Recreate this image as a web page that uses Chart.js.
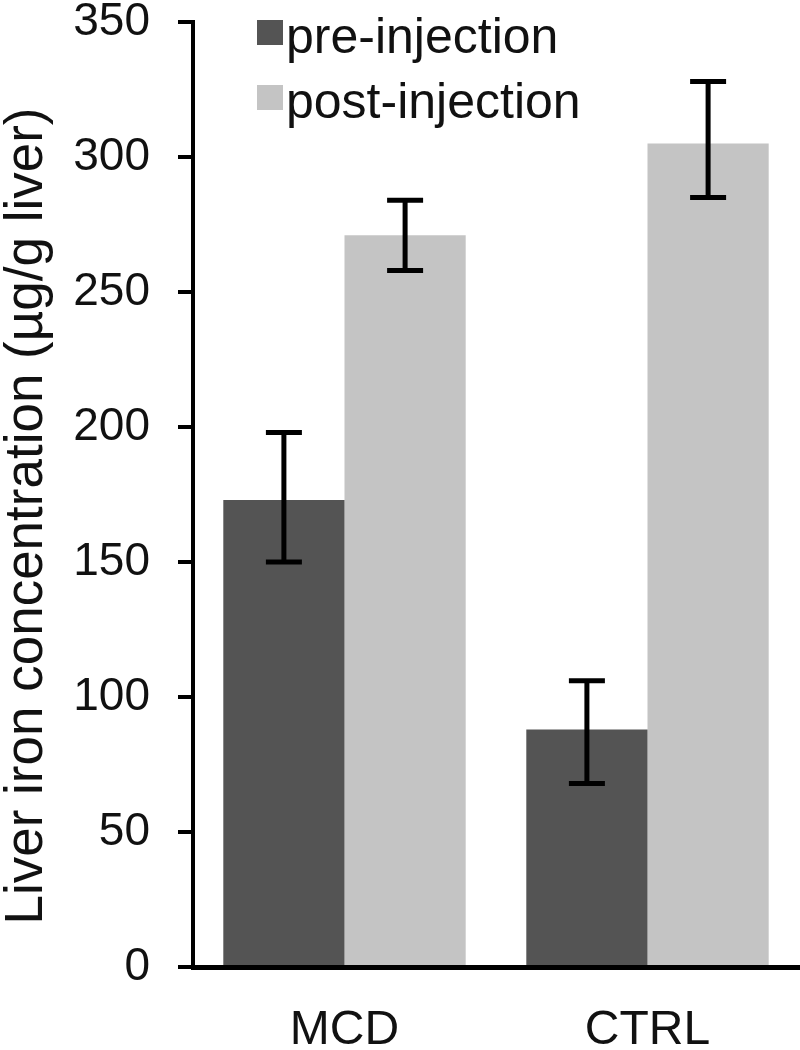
<!DOCTYPE html>
<html>
<head>
<meta charset="utf-8">
<script src="https://cdn.jsdelivr.net/npm/chart.js@4/dist/chart.umd.min.js"></script>
<style>
html,body{margin:0;padding:0;background:#fff;}
#wrap{width:800px;height:1050px;position:relative;}
</style>
</head>
<body>
<div id="wrap"><canvas id="c"></canvas></div>
<script>
const categories = ["MCD", "CTRL"];
const seriesLabels = ["pre-injection", "post-injection"];
const preValues = [173, 88];
const postValues = [271, 305];
const preErrLow = [150, 68];
const preErrHigh = [198, 106];
const postErrLow = [258, 285];
const postErrHigh = [284, 328];
const yTicks = [0, 50, 100, 150, 200, 250, 300, 350];
const yTitle = "Liver iron concentration (µg/g liver)";

const FONT = "'Liberation Sans', Arial, sans-serif";

const errorBars = {
  id: 'errorBars',
  afterDatasetsDraw(chart) {
    const ctx = chart.ctx;
    const y = chart.scales.y;
    const lows = [preErrLow, postErrLow];
    const highs = [preErrHigh, postErrHigh];
    ctx.save();
    ctx.strokeStyle = '#000';
    ctx.lineWidth = 5;
    chart.data.datasets.forEach((ds, di) => {
      const meta = chart.getDatasetMeta(di);
      meta.data.forEach((bar, i) => {
        const x = bar.x;
        const yl = y.getPixelForValue(lows[di][i]);
        const yh = y.getPixelForValue(highs[di][i]);
        const cap = 18;
        ctx.beginPath();
        ctx.moveTo(x, yl); ctx.lineTo(x, yh);
        ctx.moveTo(x - cap, yl); ctx.lineTo(x + cap, yl);
        ctx.moveTo(x - cap, yh); ctx.lineTo(x + cap, yh);
        ctx.stroke();
      });
    });
    ctx.restore();
  }
};

const innerLegend = {
  id: 'innerLegend',
  afterDraw(chart) {
    const ctx = chart.ctx;
    ctx.save();
    ctx.font = "50px " + FONT;
    ctx.textBaseline = 'alphabetic';
    ctx.textAlign = 'left';
    chart.data.datasets.forEach((ds, i) => {
      const top = 20 + i * 65;
      ctx.fillStyle = ds.backgroundColor;
      ctx.fillRect(257, top, 26, 25);
      ctx.fillStyle = '#111';
      ctx.fillText(ds.label, 286, 53 + i * 65);
    });
    // y axis title
    ctx.translate(27, 516);
    ctx.rotate(-Math.PI / 2);
    ctx.font = "53px " + FONT;
    ctx.textAlign = 'center';
    ctx.textBaseline = 'middle';
    ctx.fillStyle = '#111';
    ctx.fillText(yTitle, 0, 0);
    ctx.restore();
  }
};

new Chart(document.getElementById('c'), {
  type: 'bar',
  data: {
    labels: categories,
    datasets: [
      { label: seriesLabels[0], data: preValues, backgroundColor: '#545454', categoryPercentage: 0.8, barPercentage: 1.0 },
      { label: seriesLabels[1], data: postValues, backgroundColor: '#c4c4c4', categoryPercentage: 0.8, barPercentage: 1.0 }
    ]
  },
  options: {
    responsive: true,
    maintainAspectRatio: false,
    animation: false,
    layout: { padding: { left: 0, right: 1, top: 22, bottom: 0 } },
    plugins: { legend: { display: false }, tooltip: { enabled: false } },
    scales: {
      x: {
        grid: { display: false },
        border: { color: '#000', width: 5 },
        ticks: { color: '#111', font: { family: FONT, size: 48 }, padding: 27 },
        afterFit(scale) { scale.height = 83; }
      },
      y: {
        min: 0, max: 350,
        afterBuildTicks(scale) { scale.ticks = yTicks.map(v => ({ value: v })); },
        grid: { drawOnChartArea: false, drawTicks: true, tickLength: 15, color: '#000', lineWidth: 4 },
        border: { color: '#000', width: 4 },
        ticks: { color: '#111', font: { family: FONT, size: 46 }, padding: 28 },
        title: { display: false },
        afterFit(scale) { scale.width = 193; scale.paddingTop = 0; scale.paddingBottom = 0; }
      }
    }
  },
  plugins: [errorBars, innerLegend]
});
</script>
</body>
</html>
